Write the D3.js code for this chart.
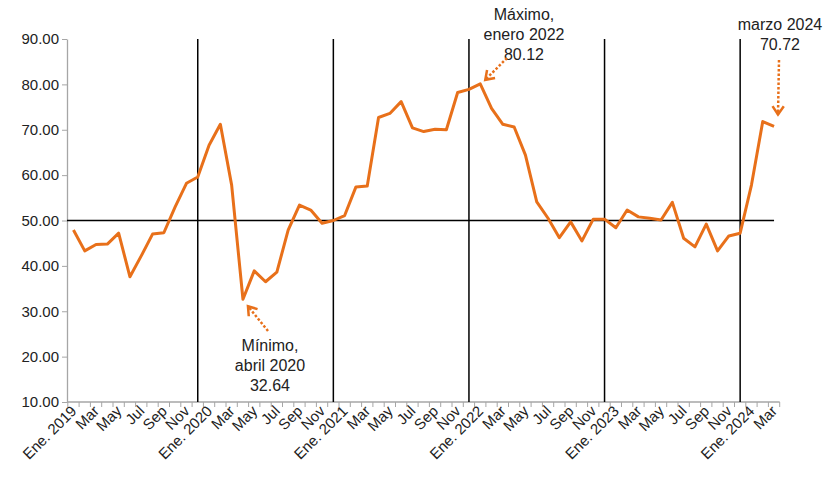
<!DOCTYPE html>
<html>
<head>
<meta charset="utf-8">
<script src="https://cdn.jsdelivr.net/npm/d3@7"></script>
<style>
 body { margin: 0; background: #fff; }
 svg text { font-family: Arial, "Liberation Sans", sans-serif; fill: #222; }
</style>
</head>
<body>
<div id="chart"></div>
<script>
// months Jan 2019 .. Mar 2024
var years = [2019, 2020, 2021, 2022, 2023, 2024];
var monthNames = ["Ene.", "Feb", "Mar", "Abr", "May", "Jun", "Jul", "Ago", "Sep", "Oct", "Nov", "Dic"];
var values = [
 47.9, 43.3, 44.7, 44.8, 47.2, 37.6, 42.2, 47.0, 47.3, 53.0, 58.2, 59.6,
 66.6, 71.2, 57.8, 32.64, 38.9, 36.5, 38.6, 47.9, 53.4, 52.3, 49.4, 50.0,
 51.1, 57.4, 57.6, 72.7, 73.6, 76.2, 70.4, 69.6, 70.1, 70.0, 78.2, 78.9,
 80.12, 74.7, 71.2, 70.6, 64.4, 54.1, 50.5, 46.2, 49.7, 45.5, 50.3, 50.3,
 48.4, 52.3, 50.8, 50.5, 50.1, 54.0, 46.1, 44.2, 49.2, 43.3, 46.6, 47.2,
 57.8, 71.8, 70.72
];
var yTicks = [10, 20, 30, 40, 50, 60, 70, 80, 90];
var refLine = 50;

var months = [];
years.forEach(function (yr) {
 for (var m = 0; m < 12; m++) {
  if (months.length < values.length) months.push({ year: yr, m: m, key: yr + "-" + m });
 }
});
var data = months.map(function (d, i) { return { key: d.key, year: d.year, m: d.m, v: values[i] }; });

var w = 828, h = 481, orange = "#E8701A";
var svg = d3.select("#chart").append("svg").attr("width", w).attr("height", h);

var x = d3.scaleBand().domain(data.map(function (d) { return d.key; })).range([67.8, 779.7]).padding(0);
var cx = function (key) { return x(key) + x.bandwidth() / 2; };
var y = d3.scaleLinear().domain([10, 90]).range([402, 39]);

// y axis
var yAxis = svg.append("g").attr("transform", "translate(67,0)")
 .call(d3.axisLeft(y).tickValues(yTicks).tickFormat(d3.format(".2f")).tickSize(5).tickSizeOuter(0));
yAxis.select(".domain").attr("stroke", "#a6a6a6").attr("stroke-width", 1.3);
yAxis.selectAll(".tick line").attr("stroke", "#a6a6a6");
yAxis.selectAll(".tick text").attr("font-size", 15).attr("x", -8).style("font-family", "Arial, 'Liberation Sans', sans-serif").attr("fill", "#222");

// x axis
var xg = svg.append("g");
xg.append("line").attr("x1", 67).attr("x2", x.range()[1]).attr("y1", 402).attr("y2", 402)
 .attr("stroke", "#a6a6a6").attr("stroke-width", 1.3);
xg.selectAll("line.tk").data(d3.range(data.length + 1)).enter().append("line").attr("class", "tk")
 .attr("x1", function (i) { return x.range()[0] + i * x.step(); })
 .attr("x2", function (i) { return x.range()[0] + i * x.step(); })
 .attr("y1", 402).attr("y2", 407).attr("stroke", "#a6a6a6");
xg.selectAll("text").data(data.filter(function (d) { return d.m % 2 === 0; })).enter().append("text")
 .attr("transform", function (d) { return "translate(" + (cx(d.key) + 4) + ",412) rotate(-45)"; })
 .attr("text-anchor", "end").attr("font-size", 15)
 .text(function (d) { return d.m === 0 ? "Ene. " + d.year : monthNames[d.m]; });

// reference lines
svg.append("line").attr("x1", 67).attr("x2", cx(data[data.length - 1].key))
 .attr("y1", y(refLine)).attr("y2", y(refLine)).attr("stroke", "#000").attr("stroke-width", 1.5);
svg.selectAll("line.vl").data(data.filter(function (d) { return d.m === 11; })).enter().append("line").attr("class", "vl")
 .attr("x1", function (d) { return cx(d.key); }).attr("x2", function (d) { return cx(d.key); })
 .attr("y1", y(90)).attr("y2", y(10)).attr("stroke", "#000").attr("stroke-width", 1.5);

// series
svg.append("path").datum(data)
 .attr("d", d3.line().x(function (d) { return cx(d.key); }).y(function (d) { return y(d.v); }))
 .attr("fill", "none").attr("stroke", orange).attr("stroke-width", 3).attr("stroke-linejoin", "round");

// annotations
function note(lines, tx, ty, from, to) {
 var t = svg.append("text").attr("text-anchor", "middle").attr("font-size", 16);
 lines.forEach(function (s, i) { t.append("tspan").attr("x", tx).attr("y", ty + i * 20).text(s); });
 svg.append("line").attr("x1", from[0]).attr("y1", from[1]).attr("x2", to[0]).attr("y2", to[1])
  .attr("stroke", orange).attr("stroke-width", 2.5).attr("stroke-dasharray", "2.5,2");
 var a = Math.atan2(from[1] - to[1], from[0] - to[0]), L = 10, s = 0.6;
 svg.append("polyline").attr("points", [
  [to[0] + L * Math.cos(a - s), to[1] + L * Math.sin(a - s)], to,
  [to[0] + L * Math.cos(a + s), to[1] + L * Math.sin(a + s)]].map(function (p) { return p.join(","); }).join(" "))
  .attr("fill", "none").attr("stroke", orange).attr("stroke-width", 2.5);
}
var pMin = data[15], pMax = data[36], pLast = data[data.length - 1];
note(["Mínimo,", "abril 2020", pMin.v.toFixed(2)], 270, 351, [268, 331], [cx(pMin.key) + 5, y(pMin.v) + 7]);
note(["Máximo,", "enero 2022", pMax.v.toFixed(2)], 524, 20, [507, 58], [cx(pMax.key) + 5, y(pMax.v) - 4]);
note(["marzo 2024", pLast.v.toFixed(2)], 780, 30, [779, 60], [778, y(pLast.v) - 12]);
</script>
</body>
</html>
